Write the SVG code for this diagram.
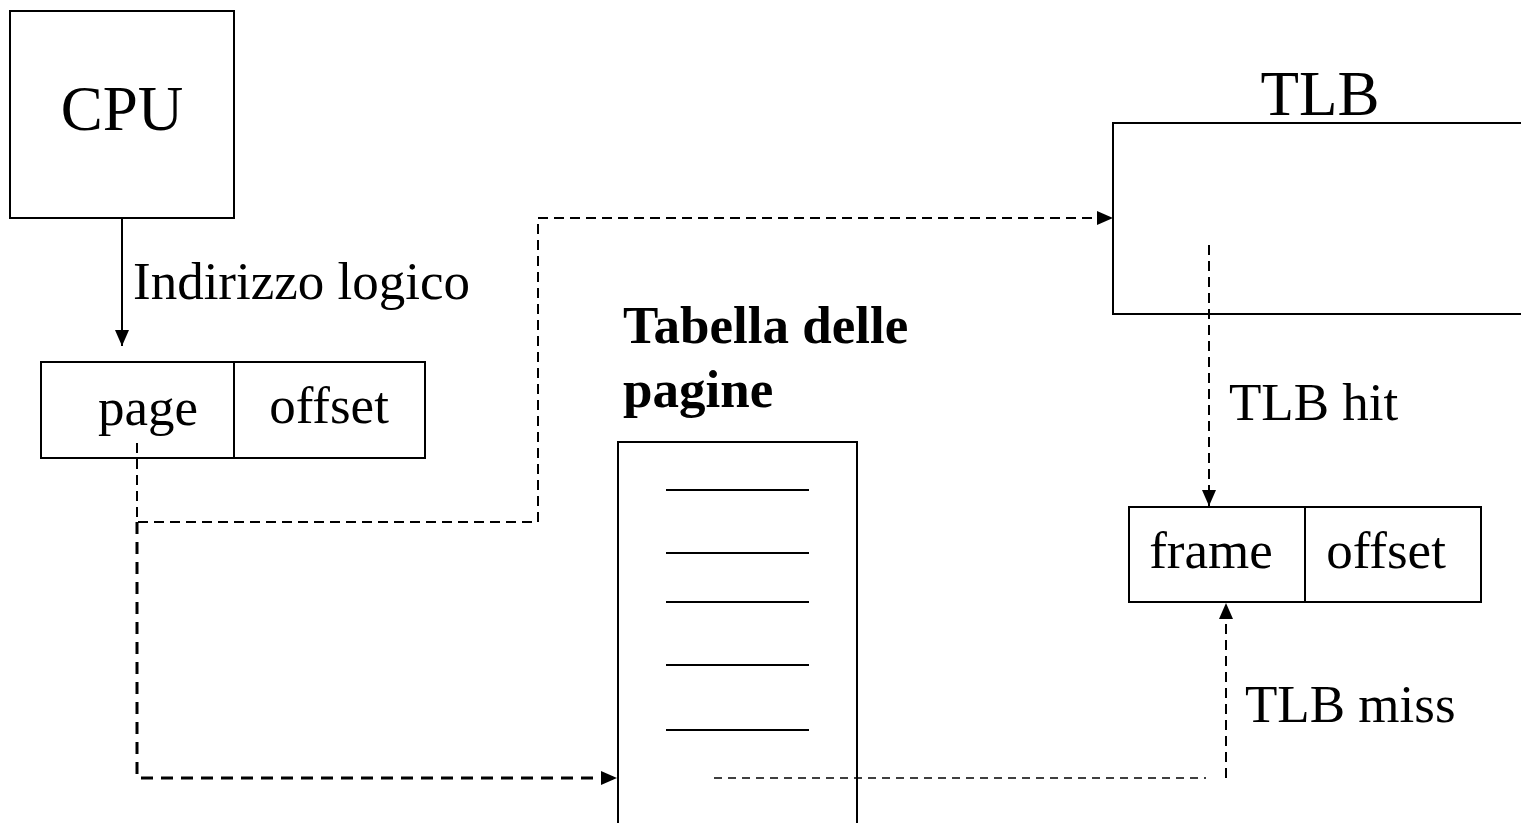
<svg xmlns="http://www.w3.org/2000/svg" width="1521" height="823" viewBox="0 0 1521 823">
<style>
text{font-family:"Liberation Serif","Times New Roman",serif;fill:#000}
.box{fill:#fff;stroke:#000;stroke-width:2}
.ln{stroke:#000;stroke-width:2;fill:none}
.d1{stroke:#000;stroke-width:2;fill:none;stroke-dasharray:10 6}
.d2{stroke:#000;stroke-width:3;fill:none;stroke-dasharray:12 8}
.d3{stroke:#000;stroke-width:1.5;fill:none;stroke-dasharray:8 6}
.lbl{font-size:53px}
.big{font-size:63px}
.bold{font-size:53px;font-weight:bold}
</style>
<defs>
<marker id="ah" viewBox="0 0 16 14" refX="16" refY="7" markerWidth="16" markerHeight="14" markerUnits="userSpaceOnUse" orient="auto">
<path d="M0,0 L16,7 L0,14 z" fill="#000"/>
</marker>
</defs>
<g id="cpu">
<rect class="box" x="10" y="11" width="224" height="207"/>
<text class="big" x="122" y="130" text-anchor="middle">CPU</text>
</g>
<g id="logical-address">
<rect class="box" x="41" y="362" width="384" height="96"/>
<line class="ln" x1="234" y1="362" x2="234" y2="458"/>
<text class="lbl" x="148" y="425" text-anchor="middle">page</text>
<text class="lbl" x="329" y="423" text-anchor="middle">offset</text>
</g>
<g id="tlb">
<rect class="box" x="1113" y="123" width="420" height="191"/>
<text class="big" x="1320" y="115" text-anchor="middle">TLB</text>
</g>
<g id="page-table">
<rect class="box" x="618" y="442" width="239" height="400"/>
<line class="ln" x1="666" y1="490" x2="809" y2="490"/>
<line class="ln" x1="666" y1="553" x2="809" y2="553"/>
<line class="ln" x1="666" y1="602" x2="809" y2="602"/>
<line class="ln" x1="666" y1="665" x2="809" y2="665"/>
<line class="ln" x1="666" y1="730" x2="809" y2="730"/>
<text class="bold" x="623" y="343">Tabella delle</text>
<text class="bold" x="623" y="407">pagine</text>
</g>
<g id="physical-address">
<rect class="box" x="1129" y="507" width="352" height="95"/>
<line class="ln" x1="1305" y1="507" x2="1305" y2="602"/>
<text class="lbl" x="1211" y="568" text-anchor="middle">frame</text>
<text class="lbl" x="1386" y="568" text-anchor="middle">offset</text>
</g>
<g id="connectors">
<line class="ln" x1="122" y1="218" x2="122" y2="346" marker-end="url(#ah)"/>
<polyline class="d1" points="137,443 137,522 538,522 538,218 1113,218" marker-end="url(#ah)"/>
<polyline class="d2" points="137,522 137,778 617,778" marker-end="url(#ah)"/>
<line class="d1" x1="1209" y1="245" x2="1209" y2="506" marker-end="url(#ah)"/>
<line class="d3" x1="714" y1="778" x2="1206" y2="778"/>
<line class="d1" x1="1226" y1="778" x2="1226" y2="603" marker-end="url(#ah)"/>
<text class="lbl" x="133" y="299">Indirizzo logico</text>
<text class="lbl" x="1229" y="420">TLB hit</text>
<text class="lbl" x="1245" y="722">TLB miss</text>
</g>
</svg>
